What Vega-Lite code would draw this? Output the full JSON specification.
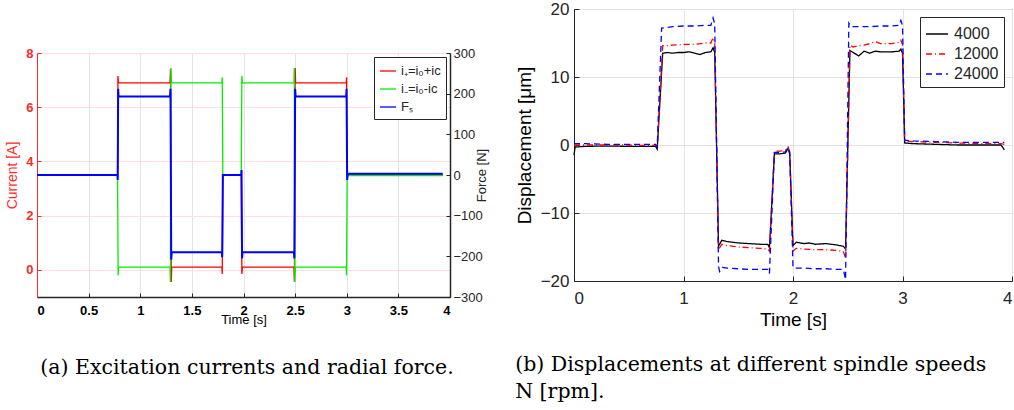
{
  "$schema": "https://vega.github.io/schema/vega-lite/v6.json",
  "padding": {"left": 5, "top": -1, "right": 0, "bottom": 0},
  "background": "white",
  "config": {
    "font": "Liberation Sans",
    "axis": {"labelColor": "#262626", "titleColor": "#262626", "domainColor": "#262626", "tickColor": "#262626", "titleFontWeight": "normal"}
  },
  "spacing": 25,
  "resolve": {"scale": {"x": "independent", "y": "independent", "color": "independent", "strokeDash": "independent"}, "legend": {"color": "independent", "strokeDash": "independent"}},
  "hconcat": [
    {
      "spacing": 0,
      "resolve": {"scale": {"color": "independent", "x": "independent", "y": "independent"}, "legend": {"color": "independent"}},
      "vconcat": [
        {"width": 10, "height": 38, "data": {"values": []}, "mark": "point", "view": {"stroke": null}},
        {
          "width": 413,
          "height": 244,
          "view": {"stroke": null},
          "title": {"text": "(a) Excitation currents and radial force.", "orient": "bottom", "anchor": "middle", "frame": "bounds", "font": "DejaVu Serif", "fontSize": 20.5, "fontWeight": "normal", "color": "black", "offset": 32},
          "layer": [
            {
              "data": {"values": [
                {"t": 0, "series": "i₊=i₀+ic", "value": 3.5},
                {"t": 0.78, "series": "i₊=i₀+ic", "value": 3.5},
                {"t": 0.784, "series": "i₊=i₀+ic", "value": 7.15},
                {"t": 0.79, "series": "i₊=i₀+ic", "value": 6.9},
                {"t": 1.288, "series": "i₊=i₀+ic", "value": 6.9},
                {"t": 1.293, "series": "i₊=i₀+ic", "value": 7.4},
                {"t": 1.3, "series": "i₊=i₀+ic", "value": -0.45},
                {"t": 1.305, "series": "i₊=i₀+ic", "value": 0.1},
                {"t": 1.79, "series": "i₊=i₀+ic", "value": 0.1},
                {"t": 1.794, "series": "i₊=i₀+ic", "value": -0.15},
                {"t": 1.8, "series": "i₊=i₀+ic", "value": 3.5},
                {"t": 1.978, "series": "i₊=i₀+ic", "value": 3.5},
                {"t": 1.984, "series": "i₊=i₀+ic", "value": -0.15},
                {"t": 1.99, "series": "i₊=i₀+ic", "value": 0.1},
                {"t": 2.488, "series": "i₊=i₀+ic", "value": 0.1},
                {"t": 2.493, "series": "i₊=i₀+ic", "value": -0.45},
                {"t": 2.5, "series": "i₊=i₀+ic", "value": 7.45},
                {"t": 2.505, "series": "i₊=i₀+ic", "value": 6.9},
                {"t": 2.995, "series": "i₊=i₀+ic", "value": 6.9},
                {"t": 2.998, "series": "i₊=i₀+ic", "value": 7.1},
                {"t": 3.004, "series": "i₊=i₀+ic", "value": 3.5},
                {"t": 3.93, "series": "i₊=i₀+ic", "value": 3.5},
                {"t": 0, "series": "i₋=i₀-ic", "value": 3.5},
                {"t": 0.78, "series": "i₋=i₀-ic", "value": 3.5},
                {"t": 0.786, "series": "i₋=i₀-ic", "value": -0.2},
                {"t": 0.79, "series": "i₋=i₀-ic", "value": 0.1},
                {"t": 1.288, "series": "i₋=i₀-ic", "value": 0.1},
                {"t": 1.292, "series": "i₋=i₀-ic", "value": -0.45},
                {"t": 1.297, "series": "i₋=i₀-ic", "value": 7.45},
                {"t": 1.303, "series": "i₋=i₀-ic", "value": 6.9},
                {"t": 1.79, "series": "i₋=i₀-ic", "value": 6.9},
                {"t": 1.794, "series": "i₋=i₀-ic", "value": 7.1},
                {"t": 1.8, "series": "i₋=i₀-ic", "value": 3.5},
                {"t": 1.978, "series": "i₋=i₀-ic", "value": 3.5},
                {"t": 1.984, "series": "i₋=i₀-ic", "value": 7.15},
                {"t": 1.99, "series": "i₋=i₀-ic", "value": 6.9},
                {"t": 2.488, "series": "i₋=i₀-ic", "value": 6.9},
                {"t": 2.492, "series": "i₋=i₀-ic", "value": 7.45},
                {"t": 2.497, "series": "i₋=i₀-ic", "value": -0.45},
                {"t": 2.503, "series": "i₋=i₀-ic", "value": 0.1},
                {"t": 2.995, "series": "i₋=i₀-ic", "value": 0.1},
                {"t": 2.998, "series": "i₋=i₀-ic", "value": -0.2},
                {"t": 3.004, "series": "i₋=i₀-ic", "value": 3.48},
                {"t": 3.93, "series": "i₋=i₀-ic", "value": 3.48}
              ]},
              "mark": {"type": "line", "strokeWidth": 1.3},
              "encoding": {
                "x": {"field": "t", "type": "quantitative", "scale": {"domain": [0, 4], "nice": false},
                  "axis": {"values": [0, 0.5, 1, 1.5, 2, 2.5, 3, 3.5, 4], "format": "~g", "title": "Time [s]", "titleFontSize": 13, "titlePadding": -4, "labelFontSize": 13, "labelFontWeight": "bold", "labelColor": "black", "titleColor": "black", "domainWidth": 1.5, "tickSize": -4, "labelPadding": 11, "gridColor": "#e3e3e3", "grid": true}},
                "y": {"field": "value", "type": "quantitative", "scale": {"domain": [-1, 8], "nice": false},
                  "axis": {"values": [0, 2, 4, 6, 8], "title": "Current  [A]", "titleColor": "#ff2a2a", "labelColor": "#ff2a2a", "domainColor": "#ff2a2a", "tickColor": "#ff2a2a", "gridColor": "#ffdede", "grid": true, "labelFontSize": 13, "labelFontWeight": "bold", "titleFontSize": 14, "tickSize": -4, "labelPadding": 8, "titlePadding": 6}},
                "color": {"field": "series", "type": "nominal",
                  "scale": {"domain": ["i₊=i₀+ic", "i₋=i₀-ic", "Fₛ"], "range": ["#ff0000", "#00ee00", "#0000ff"]},
                  "legend": {"title": null, "orient": "top-right", "offset": 4, "strokeColor": "#262626", "fillColor": "white", "padding": 5, "symbolType": "stroke", "symbolSize": 260, "symbolStrokeWidth": 1.3, "labelFontSize": 13, "labelColor": "#262626", "rowPadding": 2}}
              }
            },
            {
              "data": {"values": [
                {"t": 0, "series": "Fₛ", "force": 0},
                {"t": 0.78, "series": "Fₛ", "force": 0},
                {"t": 0.782, "series": "Fₛ", "force": -12},
                {"t": 0.786, "series": "Fₛ", "force": 212},
                {"t": 0.79, "series": "Fₛ", "force": 193},
                {"t": 1.288, "series": "Fₛ", "force": 193},
                {"t": 1.293, "series": "Fₛ", "force": 212},
                {"t": 1.3, "series": "Fₛ", "force": -208},
                {"t": 1.305, "series": "Fₛ", "force": -190},
                {"t": 1.79, "series": "Fₛ", "force": -190},
                {"t": 1.794, "series": "Fₛ", "force": -202},
                {"t": 1.8, "series": "Fₛ", "force": 0},
                {"t": 1.978, "series": "Fₛ", "force": 0},
                {"t": 1.981, "series": "Fₛ", "force": 12},
                {"t": 1.986, "series": "Fₛ", "force": -205},
                {"t": 1.99, "series": "Fₛ", "force": -190},
                {"t": 2.488, "series": "Fₛ", "force": -190},
                {"t": 2.493, "series": "Fₛ", "force": -205},
                {"t": 2.5, "series": "Fₛ", "force": 212},
                {"t": 2.505, "series": "Fₛ", "force": 193},
                {"t": 2.995, "series": "Fₛ", "force": 193},
                {"t": 2.998, "series": "Fₛ", "force": 212},
                {"t": 3.004, "series": "Fₛ", "force": -12},
                {"t": 3.01, "series": "Fₛ", "force": 3},
                {"t": 3.93, "series": "Fₛ", "force": 3}
              ]},
              "mark": {"type": "line", "strokeWidth": 2},
              "encoding": {
                "x": {"field": "t", "type": "quantitative"},
                "y": {"field": "force", "type": "quantitative", "scale": {"domain": [-300, 300], "nice": false},
                  "axis": {"orient": "right", "values": [-300, -200, -100, 0, 100, 200, 300], "title": "Force [N]", "titleAngle": 270, "grid": false, "labelFontSize": 13, "titleFontSize": 13, "tickSize": -4, "labelPadding": 7, "titlePadding": 6, "domainWidth": 1.5}},
                "color": {"field": "series", "type": "nominal"}
              }
            }
          ],
          "resolve": {"scale": {"y": "independent"}}
        }
      ]
    },
    {
      "width": 438,
      "height": 272,
      "view": {"stroke": "#262626"},
      "title": {"text": ["(b) Displacements at different spindle speeds", "N [rpm]."], "orient": "bottom", "anchor": "start", "frame": "bounds", "font": "DejaVu Serif", "fontSize": 20.5, "fontWeight": "normal", "color": "black", "offset": 26, "lineHeight": 27},
      "data": {"values": [
        {"t": 0, "s": "4000", "d": -1.5}, {"t": 0.01, "s": "4000", "d": -0.3}, {"t": 0.1, "s": "4000", "d": -0.2}, {"t": 0.3, "s": "4000", "d": -0.15}, {"t": 0.5, "s": "4000", "d": -0.2}, {"t": 0.7, "s": "4000", "d": -0.2}, {"t": 0.745, "s": "4000", "d": -0.2}, {"t": 0.76, "s": "4000", "d": -0.6}, {"t": 0.81, "s": "4000", "d": 13.5}, {"t": 0.85, "s": "4000", "d": 13.6}, {"t": 0.9, "s": "4000", "d": 13.5}, {"t": 0.95, "s": "4000", "d": 13.6}, {"t": 1.0, "s": "4000", "d": 13.6}, {"t": 1.05, "s": "4000", "d": 13.7}, {"t": 1.1, "s": "4000", "d": 13.5}, {"t": 1.15, "s": "4000", "d": 13.3}, {"t": 1.2, "s": "4000", "d": 13.6}, {"t": 1.25, "s": "4000", "d": 13.7}, {"t": 1.27, "s": "4000", "d": 14.3}, {"t": 1.285, "s": "4000", "d": 13.6}, {"t": 1.32, "s": "4000", "d": -14.9}, {"t": 1.35, "s": "4000", "d": -14.0}, {"t": 1.4, "s": "4000", "d": -14.2}, {"t": 1.5, "s": "4000", "d": -14.4}, {"t": 1.6, "s": "4000", "d": -14.5}, {"t": 1.7, "s": "4000", "d": -14.6}, {"t": 1.77, "s": "4000", "d": -14.6}, {"t": 1.785, "s": "4000", "d": -15.1}, {"t": 1.83, "s": "4000", "d": -1.3}, {"t": 1.88, "s": "4000", "d": -1.3}, {"t": 1.93, "s": "4000", "d": -1.2}, {"t": 1.955, "s": "4000", "d": -0.5}, {"t": 1.97, "s": "4000", "d": -1.3}, {"t": 2.0, "s": "4000", "d": -14.8}, {"t": 2.03, "s": "4000", "d": -14.3}, {"t": 2.1, "s": "4000", "d": -14.5}, {"t": 2.15, "s": "4000", "d": -14.4}, {"t": 2.2, "s": "4000", "d": -14.6}, {"t": 2.3, "s": "4000", "d": -14.5}, {"t": 2.4, "s": "4000", "d": -14.7}, {"t": 2.46, "s": "4000", "d": -14.9}, {"t": 2.48, "s": "4000", "d": -15.3}, {"t": 2.52, "s": "4000", "d": 13.9}, {"t": 2.55, "s": "4000", "d": 13.6}, {"t": 2.6, "s": "4000", "d": 13.1}, {"t": 2.65, "s": "4000", "d": 13.8}, {"t": 2.7, "s": "4000", "d": 13.5}, {"t": 2.75, "s": "4000", "d": 13.8}, {"t": 2.8, "s": "4000", "d": 13.7}, {"t": 2.9, "s": "4000", "d": 13.7}, {"t": 2.97, "s": "4000", "d": 13.8}, {"t": 2.985, "s": "4000", "d": 14.1}, {"t": 3.0, "s": "4000", "d": 13.5}, {"t": 3.02, "s": "4000", "d": 0.3}, {"t": 3.1, "s": "4000", "d": 0.2}, {"t": 3.3, "s": "4000", "d": 0.1}, {"t": 3.5, "s": "4000", "d": 0.0}, {"t": 3.7, "s": "4000", "d": 0.0}, {"t": 3.9, "s": "4000", "d": 0.0}, {"t": 3.93, "s": "4000", "d": -0.7},
        {"t": 0, "s": "12000", "d": 0.0}, {"t": 0.1, "s": "12000", "d": 0.0}, {"t": 0.3, "s": "12000", "d": 0.0}, {"t": 0.5, "s": "12000", "d": 0.0}, {"t": 0.7, "s": "12000", "d": -0.1}, {"t": 0.745, "s": "12000", "d": 0.0}, {"t": 0.76, "s": "12000", "d": -0.4}, {"t": 0.81, "s": "12000", "d": 14.6}, {"t": 0.85, "s": "12000", "d": 14.6}, {"t": 0.9, "s": "12000", "d": 14.7}, {"t": 1.0, "s": "12000", "d": 14.8}, {"t": 1.1, "s": "12000", "d": 14.8}, {"t": 1.2, "s": "12000", "d": 15.0}, {"t": 1.25, "s": "12000", "d": 15.0}, {"t": 1.27, "s": "12000", "d": 15.8}, {"t": 1.285, "s": "12000", "d": 14.9}, {"t": 1.32, "s": "12000", "d": -15.4}, {"t": 1.35, "s": "12000", "d": -14.6}, {"t": 1.4, "s": "12000", "d": -14.8}, {"t": 1.5, "s": "12000", "d": -15.0}, {"t": 1.6, "s": "12000", "d": -15.1}, {"t": 1.7, "s": "12000", "d": -15.2}, {"t": 1.77, "s": "12000", "d": -15.3}, {"t": 1.785, "s": "12000", "d": -15.6}, {"t": 1.83, "s": "12000", "d": -0.9}, {"t": 1.88, "s": "12000", "d": -0.9}, {"t": 1.93, "s": "12000", "d": -0.8}, {"t": 1.955, "s": "12000", "d": -0.3}, {"t": 1.97, "s": "12000", "d": -1.0}, {"t": 2.0, "s": "12000", "d": -15.6}, {"t": 2.03, "s": "12000", "d": -15.2}, {"t": 2.1, "s": "12000", "d": -15.3}, {"t": 2.2, "s": "12000", "d": -15.4}, {"t": 2.3, "s": "12000", "d": -15.4}, {"t": 2.4, "s": "12000", "d": -15.5}, {"t": 2.46, "s": "12000", "d": -15.7}, {"t": 2.48, "s": "12000", "d": -16.6}, {"t": 2.52, "s": "12000", "d": 14.7}, {"t": 2.55, "s": "12000", "d": 14.4}, {"t": 2.6, "s": "12000", "d": 14.6}, {"t": 2.65, "s": "12000", "d": 14.7}, {"t": 2.7, "s": "12000", "d": 14.9}, {"t": 2.75, "s": "12000", "d": 15.2}, {"t": 2.8, "s": "12000", "d": 14.9}, {"t": 2.9, "s": "12000", "d": 14.9}, {"t": 2.97, "s": "12000", "d": 15.1}, {"t": 2.985, "s": "12000", "d": 15.4}, {"t": 3.0, "s": "12000", "d": 14.8}, {"t": 3.02, "s": "12000", "d": 0.6}, {"t": 3.1, "s": "12000", "d": 0.5}, {"t": 3.3, "s": "12000", "d": 0.4}, {"t": 3.5, "s": "12000", "d": 0.3}, {"t": 3.7, "s": "12000", "d": 0.2}, {"t": 3.9, "s": "12000", "d": 0.2}, {"t": 3.93, "s": "12000", "d": 0.1},
        {"t": 0, "s": "24000", "d": 0.2}, {"t": 0.1, "s": "24000", "d": 0.2}, {"t": 0.3, "s": "24000", "d": 0.1}, {"t": 0.5, "s": "24000", "d": 0.1}, {"t": 0.7, "s": "24000", "d": 0.1}, {"t": 0.745, "s": "24000", "d": 0.1}, {"t": 0.76, "s": "24000", "d": -0.3}, {"t": 0.8, "s": "24000", "d": 17.2}, {"t": 0.85, "s": "24000", "d": 17.3}, {"t": 0.9, "s": "24000", "d": 17.4}, {"t": 1.0, "s": "24000", "d": 17.5}, {"t": 1.1, "s": "24000", "d": 17.5}, {"t": 1.2, "s": "24000", "d": 17.6}, {"t": 1.25, "s": "24000", "d": 17.6}, {"t": 1.27, "s": "24000", "d": 18.7}, {"t": 1.285, "s": "24000", "d": 17.8}, {"t": 1.32, "s": "24000", "d": -17.9}, {"t": 1.33, "s": "24000", "d": -18.6}, {"t": 1.35, "s": "24000", "d": -18.0}, {"t": 1.4, "s": "24000", "d": -18.1}, {"t": 1.5, "s": "24000", "d": -18.2}, {"t": 1.6, "s": "24000", "d": -18.3}, {"t": 1.7, "s": "24000", "d": -18.3}, {"t": 1.77, "s": "24000", "d": -18.3}, {"t": 1.785, "s": "24000", "d": -18.9}, {"t": 1.83, "s": "24000", "d": -1.1}, {"t": 1.88, "s": "24000", "d": -1.1}, {"t": 1.93, "s": "24000", "d": -1.0}, {"t": 1.955, "s": "24000", "d": -0.4}, {"t": 1.97, "s": "24000", "d": -1.1}, {"t": 2.0, "s": "24000", "d": -18.0}, {"t": 2.03, "s": "24000", "d": -18.1}, {"t": 2.1, "s": "24000", "d": -18.1}, {"t": 2.2, "s": "24000", "d": -18.2}, {"t": 2.3, "s": "24000", "d": -18.2}, {"t": 2.4, "s": "24000", "d": -18.3}, {"t": 2.46, "s": "24000", "d": -18.3}, {"t": 2.48, "s": "24000", "d": -19.8}, {"t": 2.51, "s": "24000", "d": 17.9}, {"t": 2.53, "s": "24000", "d": 17.4}, {"t": 2.6, "s": "24000", "d": 17.4}, {"t": 2.7, "s": "24000", "d": 17.4}, {"t": 2.8, "s": "24000", "d": 17.5}, {"t": 2.9, "s": "24000", "d": 17.5}, {"t": 2.97, "s": "24000", "d": 17.6}, {"t": 2.985, "s": "24000", "d": 18.3}, {"t": 3.0, "s": "24000", "d": 17.6}, {"t": 3.02, "s": "24000", "d": 0.7}, {"t": 3.1, "s": "24000", "d": 0.6}, {"t": 3.3, "s": "24000", "d": 0.5}, {"t": 3.5, "s": "24000", "d": 0.4}, {"t": 3.7, "s": "24000", "d": 0.4}, {"t": 3.9, "s": "24000", "d": 0.4}, {"t": 3.93, "s": "24000", "d": 0.4}
      ]},
      "mark": {"type": "line", "strokeWidth": 1.3},
      "encoding": {
        "x": {"field": "t", "type": "quantitative", "scale": {"domain": [0, 4], "nice": false},
          "axis": {"values": [0, 1, 2, 3, 4], "title": "Time [s]", "titleFontSize": 19, "labelFontSize": 17, "titleColor": "black", "gridColor": "#e3e3e3", "tickSize": -5, "labelPadding": 14, "titlePadding": 4}},
        "y": {"field": "d", "type": "quantitative", "scale": {"domain": [-20, 20], "nice": false},
          "axis": {"values": [-20, -10, 0, 10, 20], "title": "Displacement [μm]", "titleFontSize": 19, "labelFontSize": 17, "titleColor": "black", "gridColor": "#e3e3e3", "tickSize": -5, "labelPadding": 10, "titlePadding": 6}},
        "color": {"field": "s", "type": "nominal", "scale": {"domain": ["4000", "12000", "24000"], "range": ["#000000", "#ff0000", "#0000ff"]},
          "legend": {"title": null, "orient": "top-right", "offset": 8, "strokeColor": "#262626", "fillColor": "white", "padding": 5, "symbolType": "stroke", "symbolSize": 480, "symbolStrokeWidth": 1.3, "labelFontSize": 16, "labelColor": "#262626", "rowPadding": 0, "labelOffset": 5}},
        "strokeDash": {"field": "s", "type": "nominal", "scale": {"domain": ["4000", "12000", "24000"], "range": [[1, 0], [6, 3, 1, 3], [6, 4]]},
          "legend": {"title": null, "orient": "top-right", "offset": 8, "strokeColor": "#262626", "fillColor": "white", "padding": 5, "symbolType": "stroke", "symbolSize": 480, "symbolStrokeWidth": 1.3, "labelFontSize": 16, "labelColor": "#262626", "rowPadding": 0, "labelOffset": 5}}
      }
    }
  ]
}
